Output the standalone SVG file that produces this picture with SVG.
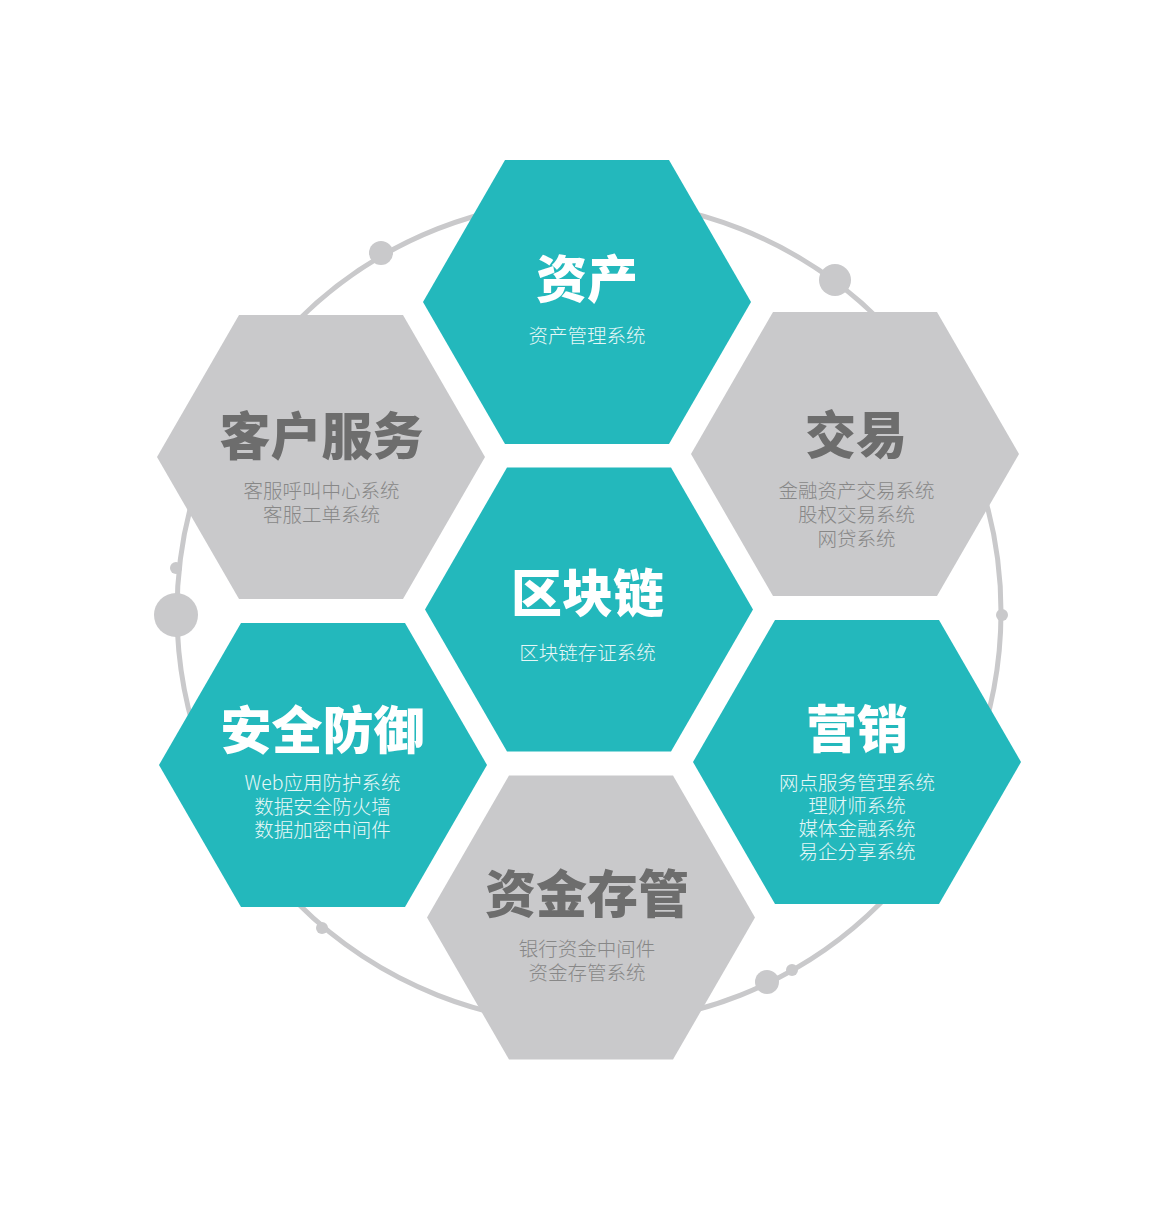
<svg xmlns="http://www.w3.org/2000/svg" width="1176" height="1221" viewBox="0 0 1176 1221">
<style>
.teal{fill:#23b8bc}
.grey{fill:#c9c9cb}
.title{font-family:"Noto Sans CJK SC","Noto Sans",sans-serif;font-weight:900;font-size:51px;text-anchor:middle}
.sub{font-family:"Noto Sans CJK SC","Noto Sans",sans-serif;font-weight:300;font-size:19.5px;text-anchor:middle}
.tw{fill:#ffffff}
.sw{fill:#e6f7f7}
.tg{fill:#6d6d6d}
.sg{fill:#878787}
.dot{fill:#c9c9cb}
</style>
<defs>
<polygon id="hex" points="-164,0 -82,-142 82,-142 164,0 82,142 -82,142"/>
</defs>
<rect width="1176" height="1221" fill="#ffffff"/>
<g id="connectors">
<circle cx="589" cy="612" r="412" fill="none" stroke="#c9c9cb" stroke-width="5"/>
<circle class="dot" cx="381" cy="253" r="12"/>
<circle class="dot" cx="835" cy="280" r="16"/>
<circle class="dot" cx="176" cy="615" r="22"/>
<circle class="dot" cx="176" cy="568" r="6"/>
<circle class="dot" cx="1002" cy="615" r="6"/>
<circle class="dot" cx="322" cy="928" r="6"/>
<circle class="dot" cx="767" cy="982" r="12"/>
<circle class="dot" cx="792" cy="970" r="6"/>
</g>
<g id="node-zichan">
<use href="#hex" x="587" y="302" class="teal"/>
<text class="title tw" x="587" y="298">资产</text>
<text class="sub sw" x="587" y="343">资产管理系统</text>
</g>
<g id="node-kehufuwu">
<use href="#hex" x="321" y="457" class="grey"/>
<text class="title tg" x="321.5" y="455">客户服务</text>
<text class="sub sg"><tspan x="321.5" y="498">客服呼叫中心系统</tspan><tspan x="321.5" y="521.5">客服工单系统</tspan></text>
</g>
<g id="node-jiaoyi">
<use href="#hex" x="855" y="454" class="grey"/>
<text class="title tg" x="856" y="454">交易</text>
<text class="sub sg"><tspan x="856.5" y="497.5">金融资产交易系统</tspan><tspan x="856.5" y="521.5">股权交易系统</tspan><tspan x="856.5" y="545.5">网贷系统</tspan></text>
</g>
<g id="node-qukuailian">
<use href="#hex" x="589" y="609.5" class="teal"/>
<text class="title tw" x="587.5" y="611.5">区块链</text>
<text class="sub sw" x="587.5" y="660">区块链存证系统</text>
</g>
<g id="node-anquanfangyu">
<use href="#hex" x="323" y="765" class="teal"/>
<text class="title tw" x="322.5" y="748.5">安全防御</text>
<text class="sub sw"><tspan x="322.5" y="790">Web应用防护系统</tspan><tspan x="322.5" y="813.5">数据安全防火墙</tspan><tspan x="322.5" y="837">数据加密中间件</tspan></text>
</g>
<g id="node-yingxiao">
<use href="#hex" x="857" y="762" class="teal"/>
<text class="title tw" x="857" y="748">营销</text>
<text class="sub sw"><tspan x="857" y="790">网点服务管理系统</tspan><tspan x="857" y="813">理财师系统</tspan><tspan x="857" y="836">媒体金融系统</tspan><tspan x="857" y="859">易企分享系统</tspan></text>
</g>
<g id="node-zijincunguan">
<use href="#hex" x="591" y="917.5" class="grey"/>
<text class="title tg" x="587" y="912.5">资金存管</text>
<text class="sub sg"><tspan x="587" y="955.5">银行资金中间件</tspan><tspan x="587" y="980">资金存管系统</tspan></text>
</g>
</svg>
